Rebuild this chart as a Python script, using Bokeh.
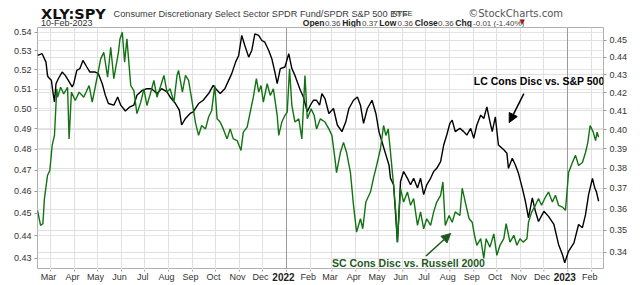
import pandas as pd
from bokeh.plotting import figure
from bokeh.layouts import column
from bokeh.models import (Range1d, LogAxis, LogScale, FixedTicker, Grid, Label,
                          Arrow, NormalHead, PrintfTickFormatter)
from bokeh.core.properties import value
from bokeh.embed import file_html
from bokeh.resources import INLINE

# ---------------- data ----------------
lc_dates = ["2021-02-12", "2021-02-18", "2021-02-23", "2021-02-25", "2021-02-26", "2021-03-02",
            "2021-03-04", "2021-03-06", "2021-03-08", "2021-03-11", "2021-03-16", "2021-03-20",
            "2021-03-24", "2021-03-29", "2021-03-31", "2021-04-04", "2021-04-08", "2021-04-12",
            "2021-04-17", "2021-04-21", "2021-04-28", "2021-05-02", "2021-05-07", "2021-05-11",
            "2021-05-15", "2021-05-22", "2021-05-27", "2021-05-31", "2021-06-06", "2021-06-12",
            "2021-06-17", "2021-06-21", "2021-06-28", "2021-07-04", "2021-07-10", "2021-07-17",
            "2021-07-23", "2021-07-30", "2021-08-03", "2021-08-10", "2021-08-15", "2021-08-18",
            "2021-08-23", "2021-08-29", "2021-09-02", "2021-09-09", "2021-09-15", "2021-09-22",
            "2021-09-28", "2021-10-03", "2021-10-07", "2021-10-13", "2021-10-18", "2021-10-22",
            "2021-10-27", "2021-10-31", "2021-11-04", "2021-11-08", "2021-11-13", "2021-11-17",
            "2021-11-21", "2021-11-26", "2021-11-30", "2021-12-04", "2021-12-09", "2021-12-13",
            "2021-12-17", "2021-12-20", "2021-12-24", "2021-12-30", "2022-01-04", "2022-01-08",
            "2022-01-12", "2022-01-19", "2022-01-23", "2022-01-28", "2022-02-01", "2022-02-05",
            "2022-02-09", "2022-02-13", "2022-02-16", "2022-02-20", "2022-02-25", "2022-03-03",
            "2022-03-08", "2022-03-14", "2022-03-19", "2022-03-23", "2022-03-29", "2022-04-03",
            "2022-04-07", "2022-04-11", "2022-04-16", "2022-04-22", "2022-04-27", "2022-05-01",
            "2022-05-05", "2022-05-10", "2022-05-14", "2022-05-16", "2022-05-20", "2022-05-25",
            "2022-05-29", "2022-06-02", "2022-06-07", "2022-06-11", "2022-06-15", "2022-06-20",
            "2022-06-24", "2022-06-28", "2022-07-02", "2022-07-07", "2022-07-11", "2022-07-15",
            "2022-07-20", "2022-07-24", "2022-07-28", "2022-08-01", "2022-08-04", "2022-08-08",
            "2022-08-14", "2022-08-19", "2022-08-23", "2022-08-28", "2022-09-01", "2022-09-05",
            "2022-09-10", "2022-09-14", "2022-09-18", "2022-09-22", "2022-09-25", "2022-09-29",
            "2022-10-03", "2022-10-10", "2022-10-14", "2022-10-16", "2022-10-21", "2022-10-25",
            "2022-10-29", "2022-11-03", "2022-11-07", "2022-11-11", "2022-11-16", "2022-11-20",
            "2022-11-24", "2022-12-01", "2022-12-07", "2022-12-14", "2022-12-20", "2022-12-25",
            "2022-12-28", "2023-01-02", "2023-01-09", "2023-01-15", "2023-01-20", "2023-01-24",
            "2023-01-28", "2023-02-02", "2023-02-05", "2023-02-07", "2023-02-10"]
lc_values = [0.4412, 0.4422, 0.4373, 0.4297, 0.4287, 0.4269,
             0.4204, 0.4149, 0.4250, 0.4278, 0.4316, 0.4297,
             0.4269, 0.4232, 0.4250, 0.4326, 0.4336, 0.4383,
             0.4345, 0.4316, 0.4316, 0.4307, 0.4250, 0.4186,
             0.4140, 0.4131, 0.4176, 0.4131, 0.4099, 0.4122,
             0.4131, 0.4186, 0.4213, 0.4222, 0.4222, 0.4195,
             0.4222, 0.4204, 0.4176, 0.4140, 0.4104, 0.4024,
             0.4059, 0.4086, 0.4095, 0.4140, 0.4158, 0.4195,
             0.4241, 0.4213, 0.4195, 0.4222, 0.4269, 0.4307,
             0.4373, 0.4412, 0.4530, 0.4470, 0.4402, 0.4441,
             0.4540, 0.4530, 0.4500, 0.4490, 0.4441, 0.4393,
             0.4316, 0.4250, 0.4336, 0.4345, 0.4422, 0.4336,
             0.4297, 0.4213, 0.4176, 0.4095, 0.4131, 0.4158,
             0.4158, 0.4131, 0.4195, 0.4167, 0.4086, 0.4113,
             0.4024, 0.3989, 0.4041, 0.4113, 0.4158, 0.4176,
             0.4131, 0.4033, 0.4113, 0.4158, 0.4086, 0.3989,
             0.3935, 0.3868, 0.3817, 0.3750, 0.3718, 0.3446,
             0.3734, 0.3784, 0.3750, 0.3718, 0.3750, 0.3702,
             0.3750, 0.3670, 0.3718, 0.3750, 0.3784, 0.3800,
             0.3834, 0.3919, 0.3971, 0.4033, 0.4050, 0.3989,
             0.4006, 0.3989, 0.3971, 0.4006, 0.3954, 0.4024,
             0.4077, 0.4059, 0.4122, 0.4041, 0.3989, 0.4068,
             0.3919, 0.3894, 0.3877, 0.3800, 0.3851, 0.3817,
             0.3775, 0.3702, 0.3638, 0.3559, 0.3654, 0.3590,
             0.3542, 0.3590, 0.3566, 0.3528, 0.3436, 0.3391,
             0.3354, 0.3405, 0.3443, 0.3528, 0.3513, 0.3574,
             0.3670, 0.3750, 0.3702, 0.3686, 0.3638]

sc_dates = ["2021-02-12", "2021-02-16", "2021-02-19", "2021-02-21", "2021-02-25", "2021-02-28",
            "2021-03-03", "2021-03-06", "2021-03-09", "2021-03-10", "2021-03-14", "2021-03-18",
            "2021-03-23", "2021-03-25", "2021-03-28", "2021-04-02", "2021-04-07", "2021-04-13",
            "2021-04-20", "2021-04-24", "2021-04-30", "2021-05-05", "2021-05-09", "2021-05-14",
            "2021-05-18", "2021-05-22", "2021-05-28", "2021-05-30", "2021-06-02", "2021-06-05",
            "2021-06-08", "2021-06-13", "2021-06-17", "2021-06-21", "2021-06-26", "2021-06-30",
            "2021-07-04", "2021-07-09", "2021-07-13", "2021-07-17", "2021-07-22", "2021-07-26",
            "2021-07-30", "2021-08-03", "2021-08-08", "2021-08-12", "2021-08-14", "2021-08-19",
            "2021-08-23", "2021-08-27", "2021-08-31", "2021-09-05", "2021-09-09", "2021-09-13",
            "2021-09-18", "2021-09-22", "2021-09-26", "2021-09-30", "2021-10-03", "2021-10-07",
            "2021-10-11", "2021-10-16", "2021-10-20", "2021-10-24", "2021-10-29", "2021-11-03",
            "2021-11-06", "2021-11-11", "2021-11-15", "2021-11-19", "2021-11-23", "2021-11-26",
            "2021-11-29", "2021-12-02", "2021-12-07", "2021-12-11", "2021-12-15", "2021-12-20",
            "2021-12-22", "2021-12-26", "2021-12-30", "2022-01-02", "2022-01-05", "2022-01-08",
            "2022-01-12", "2022-01-17", "2022-01-21", "2022-01-25", "2022-01-28", "2022-02-02",
            "2022-02-06", "2022-02-09", "2022-02-14", "2022-02-20", "2022-02-25", "2022-03-01",
            "2022-03-05", "2022-03-07", "2022-03-12", "2022-03-16", "2022-03-20", "2022-03-25",
            "2022-03-29", "2022-04-02", "2022-04-07", "2022-04-10", "2022-04-14", "2022-04-20",
            "2022-04-24", "2022-04-28", "2022-05-03", "2022-05-07", "2022-05-10", "2022-05-13",
            "2022-05-16", "2022-05-20", "2022-05-23", "2022-05-25", "2022-05-29", "2022-06-02",
            "2022-06-07", "2022-06-11", "2022-06-15", "2022-06-20", "2022-06-24", "2022-06-28",
            "2022-07-02", "2022-07-07", "2022-07-11", "2022-07-15", "2022-07-20", "2022-07-23",
            "2022-07-26", "2022-07-31", "2022-08-04", "2022-08-08", "2022-08-14", "2022-08-17",
            "2022-08-21", "2022-08-26", "2022-08-30", "2022-09-02", "2022-09-05", "2022-09-10",
            "2022-09-14", "2022-09-17", "2022-09-22", "2022-09-27", "2022-10-01", "2022-10-05",
            "2022-10-10", "2022-10-13", "2022-10-18", "2022-10-23", "2022-10-27", "2022-10-31",
            "2022-11-04", "2022-11-09", "2022-11-11", "2022-11-15", "2022-11-20", "2022-11-24",
            "2022-11-28", "2022-12-03", "2022-12-07", "2022-12-12", "2022-12-16", "2022-12-20",
            "2022-12-25", "2022-12-29", "2023-01-02", "2023-01-07", "2023-01-11", "2023-01-15",
            "2023-01-20", "2023-01-24", "2023-01-27", "2023-01-30", "2023-02-03", "2023-02-06",
            "2023-02-08", "2023-02-10"]
sc_values = [0.4513, 0.4445, 0.4453, 0.4567, 0.4675, 0.4698,
             0.4818, 0.4867, 0.5101, 0.5058, 0.5109, 0.5075,
             0.5109, 0.4850, 0.5084, 0.5041, 0.5084, 0.5058,
             0.5118, 0.5033, 0.5153, 0.5257, 0.5292, 0.5161,
             0.5319, 0.5153, 0.5292, 0.5364, 0.5400, 0.5240,
             0.5364, 0.5118, 0.5092, 0.4975, 0.5033, 0.5101,
             0.5016, 0.5084, 0.5144, 0.5058, 0.5118, 0.5170,
             0.5084, 0.5101, 0.5033, 0.5170, 0.5196, 0.5084,
             0.5170, 0.5144, 0.5050, 0.4929, 0.4867, 0.4916,
             0.4899, 0.4958, 0.4991, 0.5118, 0.4949, 0.4933,
             0.4899, 0.4850, 0.4899, 0.4850, 0.4842, 0.4794,
             0.4883, 0.4908, 0.4983, 0.5058, 0.5153, 0.5084,
             0.5118, 0.5033, 0.5127, 0.5067, 0.5101, 0.4966,
             0.4867, 0.4933, 0.4966, 0.4983, 0.5205, 0.5016,
             0.4933, 0.4949, 0.4850, 0.5170, 0.4949, 0.4999,
             0.4966, 0.4899, 0.4949, 0.4933, 0.4899, 0.4867,
             0.4751, 0.4688, 0.4784, 0.4833, 0.4784, 0.4688,
             0.4536, 0.4415, 0.4475, 0.4430, 0.4551, 0.4597,
             0.4663, 0.4722, 0.4802, 0.4916, 0.4867, 0.4899,
             0.4784, 0.4628, 0.4499, 0.4370, 0.4613, 0.4551,
             0.4597, 0.4536, 0.4567, 0.4445, 0.4506, 0.4430,
             0.4475, 0.4445, 0.4506, 0.4551, 0.4582, 0.4644,
             0.4445, 0.4490, 0.4459, 0.4506, 0.4490, 0.4615,
             0.4551, 0.4475, 0.4459, 0.4401, 0.4357, 0.4386,
             0.4300, 0.4386, 0.4349, 0.4407, 0.4313, 0.4357,
             0.4386, 0.4453, 0.4371, 0.4401, 0.4357, 0.4386,
             0.4371, 0.4386, 0.4459, 0.4504, 0.4536, 0.4567,
             0.4536, 0.4574, 0.4597, 0.4551, 0.4582, 0.4536,
             0.4528, 0.4513, 0.4688, 0.4736, 0.4770, 0.4722,
             0.4736, 0.4784, 0.4833, 0.4916, 0.4883, 0.4842,
             0.4883, 0.4858]

month_ticks = ["2021-03-01", "2021-04-01", "2021-05-01", "2021-06-01", "2021-07-01", "2021-08-01",
               "2021-09-01", "2021-10-01", "2021-11-01", "2021-12-01", "2022-01-01", "2022-02-01",
               "2022-03-01", "2022-04-01", "2022-05-01", "2022-06-01", "2022-07-01", "2022-08-01",
               "2022-09-01", "2022-10-01", "2022-11-01", "2022-12-01", "2023-01-01", "2023-02-01"]
month_labels = ["Mar", "Apr", "May", "Jun", "Jul", "Aug", "Sep", "Oct", "Nov", "Dec", "2022", "Feb",
                "Mar", "Apr", "May", "Jun", "Jul", "Aug", "Sep", "Oct", "Nov", "Dec", "2023", "Feb"]
left_ticks = [0.43, 0.44, 0.45, 0.46, 0.47, 0.48, 0.49, 0.50, 0.51, 0.52, 0.53, 0.54]
right_ticks = [0.34, 0.35, 0.36, 0.37, 0.38, 0.39, 0.40, 0.41, 0.42, 0.43, 0.44, 0.45]

FONT = "Liberation Sans"
GREEN = "#127312"
ANN_GREEN = "#1e5a1e"
W = 640
FL, FR = 37, 37

lc_x = [pd.Timestamp(d) for d in lc_dates]
sc_x = [pd.Timestamp(d) for d in sc_dates]
tick_ms = [pd.Timestamp(t).value // 10**6 for t in month_ticks]
x_range = Range1d(pd.Timestamp("2021-02-12"), pd.Timestamp("2023-02-16 08:00"))

# ---------------- header strip (canvas pixel coordinates) ----------------
hdr = figure(width=W, height=27, output_backend="svg", toolbar_location=None, title=None,
             x_range=Range1d(0, W), y_range=Range1d(27, 0),
             x_axis_location=None, y_axis_location=None,
             min_border=0, min_border_left=0, min_border_right=0,
             min_border_top=0, min_border_bottom=0, outline_line_color=None)
hdr.grid.visible = False


def htext(x, y, text, size, bold=False, color="#222222", font=FONT):
    hdr.add_layout(Label(x=x, y=y, text=text, text_font=font, text_font_size=size,
                         text_font_style="bold" if bold else "normal", text_color=color,
                         text_baseline="alphabetic", text_align="left"))


L1, L2 = 13, 22.5
htext(4, L1 + 0.5, "XLY:SPY", "14.5px", bold=True, color="#111111", font="DejaVu Sans")
htext(86, L1, "Consumer Discretionary Select Sector SPDR Fund/SPDR S&P 500 ETF", "9.2px", color="#3a3a3a")
htext(401, L1, "NYSE", "7.5px", color="#3a3a3a")
htext(487, L1, "\u00a9StockCharts.com", "10px", color="#555555", font="DejaVu Sans")
htext(4, L2, "10-Feb-2023", "9px", color="#333333")
for x, t in zip([300, 344.5, 386.5, 426.5, 472.5], ["Open", "High", "Low", "Close", "Chg"]):
    htext(x, L2, t, "8.5px", bold=True, color="#222222")
for x, t in zip([325, 367, 407, 453, 492.5],
                ["0.36", "0.37", "0.36", "0.36", "-0.01 (-1.40%)"]):
    htext(x, L2, t, "8px", color="#444444")
htext(545, L2 - 1, "\u25bc", "7px", color="#aa1111", font="DejaVu Sans")

# ---------------- main chart ----------------
p = figure(width=W, height=242, output_backend="svg", toolbar_location=None, title=None,
           x_axis_type="datetime", y_axis_type="log", x_axis_location=None,
           x_range=x_range, y_range=Range1d(0.4252, 0.5426),
           min_border_left=FL, min_border_right=FR, min_border_top=0, min_border_bottom=0)
p.extra_y_ranges = {"right": Range1d(0.3324, 0.4578)}
p.extra_y_scales = {"right": LogScale()}
p.outline_line_color = "#b0b0b0"

ya = p.yaxis[0]
ya.ticker = FixedTicker(ticks=left_ticks)
ya.formatter = PrintfTickFormatter(format="%.2f")

ra = LogAxis(y_range_name="right", ticker=FixedTicker(ticks=right_ticks),
             formatter=PrintfTickFormatter(format="%.2f"))
p.add_layout(ra, "right")

for ax in (ya, ra):
    ax.axis_line_color = None
    ax.major_tick_line_color = "#999999"
    ax.major_tick_out = 3
    ax.major_tick_in = 0
    ax.minor_tick_line_color = None
    ax.major_label_text_font = FONT
    ax.major_label_text_font_size = "9px"
    ax.major_label_text_color = "#333333"
    ax.major_label_standoff = 3

p.add_layout(Grid(dimension=0, ticker=FixedTicker(ticks=tick_ms), grid_line_color="#e0e0e0"))
p.add_layout(Grid(dimension=1, ticker=FixedTicker(ticks=right_ticks), y_range_name="right",
                  grid_line_color="#e0e0e0"))
year_ms = [t for t, lab in zip(tick_ms, month_labels) if lab.isdigit()]
p.add_layout(Grid(dimension=0, ticker=FixedTicker(ticks=year_ms), grid_line_color="#9a9a9a"))

p.line(lc_x, lc_values, y_range_name="right", line_color="black", line_width=1.4)
p.line(sc_x, sc_values, line_color=GREEN, line_width=1.4)

p.add_layout(Label(x=pd.Timestamp("2022-09-01"), y=0.4268, y_range_name="right",
                   text="LC Cons Disc vs. S&P 500", text_font=FONT, text_font_style="bold",
                   text_font_size="10.5px", text_color="black", text_baseline="alphabetic"))
p.add_layout(Arrow(end=NormalHead(size=9, fill_color="black", line_color="black"),
                   x_start=pd.Timestamp("2022-11-05"), y_start=0.4195,
                   x_end=pd.Timestamp("2022-10-17"), y_end=0.4037,
                   y_range_name="right", line_color="black", line_width=1.5))
p.add_layout(Label(x=pd.Timestamp("2022-03-01"), y=0.4282,
                   text="SC Cons Disc vs. Russell 2000", text_font=FONT, text_font_style="bold",
                   text_font_size="10.5px", text_color=ANN_GREEN, text_baseline="alphabetic"))
p.add_layout(Arrow(end=NormalHead(size=9, fill_color=ANN_GREEN, line_color=ANN_GREEN),
                   x_start=pd.Timestamp("2022-07-01"), y_start=0.4310,
                   x_end=pd.Timestamp("2022-08-02"), y_end=0.4409,
                   line_color=ANN_GREEN, line_width=1.5))

# ---------------- date labels strip (shares the x range) ----------------
ftr = figure(width=W, height=16, output_backend="svg", toolbar_location=None, title=None,
             x_range=x_range, y_range=Range1d(16, 0),
             x_axis_location=None, y_axis_location=None,
             min_border_left=FL, min_border_right=FR, min_border_top=0, min_border_bottom=0,
             outline_line_color=None)
ftr.grid.visible = False
m_x = [pd.Timestamp(t) for t, lab in zip(month_ticks, month_labels) if not lab.isdigit()]
m_l = [lab for lab in month_labels if not lab.isdigit()]
y_x = [pd.Timestamp(t) for t, lab in zip(month_ticks, month_labels) if lab.isdigit()]
y_l = [lab for lab in month_labels if lab.isdigit()]
ftr.segment(x0=m_x + y_x, y0=[0] * 24, x1=m_x + y_x, y1=[2] * 24, line_color="#999999", line_width=1)
ftr.text(x=m_x, y=[7.5] * len(m_x), text=m_l, text_font=value(FONT), text_font_size="9px",
         text_color="#333333", text_align="center", text_baseline="middle", x_offset=-2)
ftr.text(x=y_x, y=[7.5] * len(y_x), text=y_l, text_font=value(FONT), text_font_size="10px",
         text_font_style="bold", text_color="#222222", text_align="center",
         text_baseline="middle", x_offset=-3)

layout = column(hdr, p, ftr, spacing=0)
open("out.html", "w").write(file_html(layout, INLINE))
